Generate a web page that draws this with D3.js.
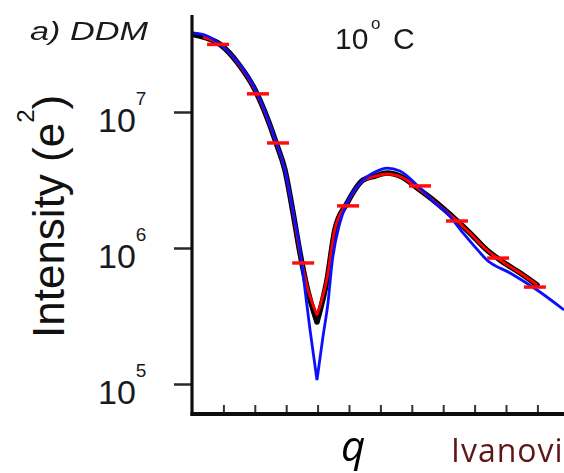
<!DOCTYPE html>
<html>
<head>
<meta charset="utf-8">
<script src="https://cdn.jsdelivr.net/npm/d3@7"></script>
<style>
  html, body { margin: 0; padding: 0; background: #fff; }
  svg { display: block; }
</style>
</head>
<body>
<svg id="chart" width="564" height="473"></svg>
<script>
// ---- data (q in axis-tick units, intensity in e^2) ----
const blackQ = [0.10,0.25,0.92,1.46,2.01,2.42,2.68,2.96,3.22,3.44,3.66,3.98,4.30,4.55,4.94,5.45,5.83,6.21,6.62,7.26,7.80,8.31,8.85,9.39,9.90,10.45,10.99];
const blackI = [3.68e7,3.62e7,3.11e7,2.29e7,1.45e7,8.73e6,5.92e6,3.75e6,1.81e6,9.18e5,5.16e5,2.86e5,5.82e5,1.36e6,2.14e6,3.16e6,3.38e6,3.56e6,3.38e6,2.67e6,2.14e6,1.69e6,1.29e6,9.66e5,7.89e5,6.55e5,5.35e5];

const redQ = [0.35,0.92,1.46,2.01,2.42,2.68,2.96,3.22,3.44,3.66,3.98,4.30,4.55,4.94,5.45,5.83,6.21,6.62,7.26,7.80,8.31,8.85,9.39,9.90,10.45,10.99];
const redI = [3.55e7,3.11e7,2.29e7,1.45e7,8.73e6,5.92e6,3.75e6,1.81e6,9.18e5,5.3e5,3.21e5,6.0e5,1.38e6,2.14e6,3.14e6,3.36e6,3.50e6,3.36e6,2.67e6,2.12e6,1.68e6,1.29e6,9.66e5,7.89e5,6.55e5,5.35e5];

const blueQ = [0.03,0.41,0.92,1.46,2.01,2.42,2.68,2.96,3.22,3.44,3.60,3.76,3.98,4.17,4.33,4.46,4.71,4.94,5.45,5.83,6.21,6.62,7.26,7.74,8.12,8.63,9.01,9.39,10.13,10.99,11.85];
const blueI = [3.81e7,3.68e7,3.11e7,2.33e7,1.48e7,8.89e6,6.01e6,3.75e6,1.84e6,9.66e5,4.91e5,2.49e5,1.07e5,2.22e5,3.94e5,7.76e5,1.53e6,2.14e6,3.16e6,3.62e6,3.87e6,3.68e6,2.76e6,2.14e6,1.81e6,1.29e6,1.02e6,8.17e5,6.55e5,4.91e5,3.50e5];

const pointQ = [0.83,2.10,2.74,3.54,4.97,7.26,8.44,9.75,10.92];
const pointI = [3.14e7,1.36e7,5.92e6,7.76e5,2.04e6,2.86e6,1.58e6,8.43e5,5.16e5];

const yTickValues = [1e5, 1e6, 1e7];
const xTickValues = [1,2,3,4,5,6,7,8,9,10,11];

const titleText = "a) DDM";
const tempText = "10";
const yLabelText = "Intensity (e";
const xLabelText = "q";
const creditText = "Ivanovi";

// ---- scales ----
const svg = d3.select("#chart");
const x = d3.scaleLinear().domain([0, 12]).range([192, 568.8]);
const y = d3.scaleLog().domain([1e5, 1e7]).range([384, 112]);

const zip = (qs, is) => qs.map((q, i) => ({q, v: is[i]}));
const line = d3.line().x(d => x(d.q)).y(d => y(d.v)).curve(d3.curveMonotoneX);
// smooth everywhere but keep the sharp minimum: draw the two branches separately
function curvePath(data) {
  const idx = d3.minIndex(data, d => d.v);
  return line(data.slice(0, idx + 1)) + line(data.slice(idx));
}

const font = "'Liberation Sans', Arial, Helvetica, sans-serif";

// ---- blur filter for soft look ----
const defs = svg.append("defs");
defs.append("filter").attr("id", "soft").attr("x", "-5%").attr("y", "-5%").attr("width", "110%").attr("height", "110%")
  .append("feGaussianBlur").attr("stdDeviation", 0.6);

// ---- curves ----
const plot = svg.append("g").attr("filter", "url(#soft)");
plot.append("path").attr("d", curvePath(zip(blackQ, blackI)))
  .attr("fill", "none").attr("stroke", "#000").attr("stroke-width", 5.5)
  .attr("stroke-linejoin", "round").attr("stroke-linecap", "round");
plot.append("path").attr("d", curvePath(zip(redQ, redI)))
  .attr("fill", "none").attr("stroke", "#ff0000").attr("stroke-width", 2.8)
  .attr("stroke-linejoin", "round");
plot.append("path").attr("d", curvePath(zip(blueQ, blueI)))
  .attr("fill", "none").attr("stroke", "#0a10ff").attr("stroke-width", 2.8)
  .attr("stroke-linejoin", "round");

// red data dashes
plot.selectAll("line.pt").data(zip(pointQ, pointI)).join("line")
  .attr("class", "pt")
  .attr("x1", d => x(d.q) - 11).attr("x2", d => x(d.q) + 11)
  .attr("y1", d => y(d.v)).attr("y2", d => y(d.v))
  .attr("stroke", "#ff1010").attr("stroke-width", 3.5);

// ---- axes ----
const axes = svg.append("g").attr("filter", "url(#soft)");
const yAxis = axes.append("g").attr("transform", "translate(192,0)")
  .call(d3.axisLeft(y).tickValues(yTickValues).tickSize(18).tickFormat(""));
yAxis.select(".domain").remove();
yAxis.selectAll(".tick line").attr("stroke", "#2a2a2a").attr("stroke-width", 2.5);

const xAxis = axes.append("g").attr("transform", "translate(0,414)")
  .call(d3.axisTop(x).tickValues(xTickValues).tickSize(9).tickSizeOuter(0).tickFormat(""));
xAxis.select(".domain").remove();
xAxis.selectAll(".tick line").attr("stroke", "#333").attr("stroke-width", 2);

axes.append("line").attr("x1", 192).attr("x2", 192).attr("y1", 15).attr("y2", 416)
  .attr("stroke", "#111").attr("stroke-width", 3.2);
axes.append("line").attr("x1", 190.5).attr("x2", 564).attr("y1", 414).attr("y2", 414)
  .attr("stroke", "#111").attr("stroke-width", 4);

// y tick labels 10^n
const lbl = svg.append("g");
yTickValues.forEach(v => {
  const t = lbl.append("text")
    .attr("x", 98).attr("y", y(v) + 20)
    .attr("font-family", font).attr("font-size", 34).attr("fill", "#1a1a1a");
  t.append("tspan").text("10");
  t.append("tspan").attr("dy", -27).attr("font-size", 19).text(Math.round(Math.log10(v)));
});

// y axis title
const yt = lbl.append("text")
  .attr("transform", "translate(64,338) rotate(-90)")
  .attr("font-family", font).attr("font-size", 44).attr("fill", "#111");
yt.append("tspan").text(yLabelText);
yt.append("tspan").attr("dy", -30).attr("font-size", 24).text("2");
yt.append("tspan").attr("dy", 30).text(")");

// panel title
lbl.append("text").attr("x", 30).attr("y", 40)
  .attr("font-family", font).attr("font-style", "italic").attr("font-size", 26)
  .attr("textLength", 118).attr("lengthAdjust", "spacingAndGlyphs")
  .attr("fill", "#1a1a1a").text(titleText);

// temperature
lbl.append("text").attr("x", 335).attr("y", 49)
  .attr("font-family", font).attr("font-size", 30).attr("fill", "#1a1a1a").text(tempText);
lbl.append("text").attr("x", 371).attr("y", 29)
  .attr("font-family", font).attr("font-size", 17).attr("fill", "#1a1a1a").text("o");
lbl.append("text").attr("x", 393).attr("y", 49)
  .attr("font-family", font).attr("font-size", 30).attr("fill", "#1a1a1a").text("C");

// x axis label
lbl.append("text").attr("x", 341).attr("y", 461)
  .attr("font-family", "'Open Sans', 'DejaVu Sans', sans-serif").attr("font-style", "italic")
  .attr("font-size", 42).attr("fill", "#000").text(xLabelText);

// credit
lbl.append("text").attr("x", 451).attr("y", 462)
  .attr("font-family", "'Open Sans', 'Noto Sans', sans-serif")
  .attr("font-size", 32).attr("letter-spacing", 1).attr("fill", "#611616").text(creditText);
</script>
</body>
</html>
